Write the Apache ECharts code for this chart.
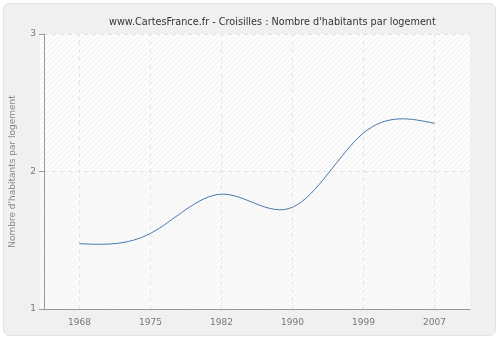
<!DOCTYPE html>
<html>
<head>
<meta charset="utf-8">
<script src="https://cdn.jsdelivr.net/npm/echarts@6/dist/echarts.min.js"></script>
<style>html,body{margin:0;padding:0;background:#fff;}#c{width:500px;height:340px;}</style>
</head>
<body>
<div id="c"></div>
<script>
var categories = ['1968', '1975', '1982', '1990', '1999', '2007'];
var values = [1.475, 1.55, 1.835, 1.74, 2.28, 2.35];
var yTicks = [1, 2, 3];
var titleText = "www.CartesFrance.fr - Croisilles : Nombre d'habitants par logement";
var yName = "Nombre d'habitants par logement";

function hatch(bg, line) {
  var c = document.createElement('canvas');
  c.width = 5; c.height = 5;
  var g = c.getContext('2d');
  g.fillStyle = bg; g.fillRect(0, 0, 5, 5);
  g.fillStyle = line;
  for (var y = 0; y < 5; y++) {
    var x = (4 - y) % 5;
    g.fillRect(x, y, 1, 1);
  }
  return c;
}

// natural cubic spline drawn through the library's coordinate system
function splinePath(pts) {
  var n = pts.length;
  var h = pts[1][0] - pts[0][0];
  var M = new Array(n).fill(0);
  var m = n - 2;
  if (m > 0) {
    var a = [], b = [], cc = [], d = [];
    for (var i = 1; i <= m; i++) {
      a.push(1); b.push(4); cc.push(1);
      d.push(6 * (pts[i + 1][1] - 2 * pts[i][1] + pts[i - 1][1]) / (h * h));
    }
    for (var k = 1; k < m; k++) {
      var w = a[k] / b[k - 1];
      b[k] -= w * cc[k - 1];
      d[k] -= w * d[k - 1];
    }
    var sol = new Array(m);
    sol[m - 1] = d[m - 1] / b[m - 1];
    for (var k2 = m - 2; k2 >= 0; k2--) sol[k2] = (d[k2] - cc[k2] * sol[k2 + 1]) / b[k2];
    for (var j = 0; j < m; j++) M[j + 1] = sol[j];
  }
  var p = 'M' + pts[0][0] + ' ' + pts[0][1];
  for (var s = 0; s < n - 1; s++) {
    var y0 = pts[s][1], y1 = pts[s + 1][1];
    var d0 = (y1 - y0) / h - h * (2 * M[s] + M[s + 1]) / 6;
    var d1 = (y1 - y0) / h + h * (M[s] + 2 * M[s + 1]) / 6;
    var x0 = pts[s][0], x1 = pts[s + 1][0];
    p += ' C' + (x0 + h / 3) + ' ' + (y0 + d0 * h / 3) + ' ' +
         (x1 - h / 3) + ' ' + (y1 - d1 * h / 3) + ' ' + x1 + ' ' + y1;
  }
  return p;
}

var chart = echarts.init(document.getElementById('c'));
var font = 'Verdana, "DejaVu Sans", sans-serif';
var seriesData = values.map(function (v, i) { return [i, v]; });

chart.setOption({
  animation: false,
  backgroundColor: '#ffffff',
  title: {
    text: titleText,
    left: 104,
    top: 12,
    textStyle: {fontFamily: font, fontSize: 9.7, fontWeight: 'normal', color: '#333'}
  },
  grid: {left: 40, right: 30, top: 34, bottom: 31, show: false},
  xAxis: {
    type: 'category',
    data: categories,
    boundaryGap: true,
    axisLine: {lineStyle: {color: '#999'}},
    axisTick: {alignWithLabel: true, length: 5, lineStyle: {color: '#999'}},
    axisLabel: {fontFamily: font, fontSize: 9, color: '#777', margin: 9},
    splitLine: {show: false}
  },
  yAxis: {
    type: 'value',
    min: yTicks[0],
    max: yTicks[yTicks.length - 1],
    interval: 1,
    name: yName,
    nameLocation: 'middle',
    nameGap: 27,
    nameTextStyle: {fontFamily: font, fontSize: 9, color: '#888'},
    axisLine: {show: true, lineStyle: {color: '#999'}},
    axisTick: {show: true, length: 5, lineStyle: {color: '#999'}},
    axisLabel: {fontFamily: font, fontSize: 9, color: '#777', margin: 8},
    splitLine: {show: true, lineStyle: {color: '#e4e4e4', type: [4, 4]}}
  },
  series: [{
    type: 'custom',
    data: seriesData,
    encode: {x: 0, y: 1},
    z: 5,
    renderItem: function (params, api) {
      if (params.dataIndex !== 0) return null;
      var pts = values.map(function (v, i) { return api.coord([i, v]); });
      return {
        type: 'path',
        shape: {pathData: splinePath(pts)},
        style: {fill: null, stroke: '#4a78ad', lineWidth: 1}
      };
    },
    markLine: {
      silent: true,
      symbol: 'none',
      label: {show: false},
      lineStyle: {color: '#e4e4e4', type: [4, 4], width: 1},
      data: categories.map(function (c) { return {xAxis: c}; })
    }
  }]
});

var tl = chart.convertToPixel({gridIndex: 0}, [0, 3]);
var mid = chart.convertToPixel({gridIndex: 0}, [0, 2]);
var bl = chart.convertToPixel({gridIndex: 0}, [0, 1]);
var gx = 40, gw = 430;
chart.setOption({
  graphic: [{
    type: 'rect',
    shape: {x: 3.5, y: 3.5, width: 492, height: 332, r: 6},
    style: {fill: '#f0f0f0', stroke: '#e2e2e2', lineWidth: 1},
    z: -10, silent: true
  }, {
    type: 'rect',
    shape: {x: gx, y: tl[1], width: gw, height: mid[1] - tl[1]},
    style: {fill: {image: hatch('#fdfdfd', '#efefef'), repeat: 'repeat'}},
    z: -9, silent: true
  }, {
    type: 'rect',
    shape: {x: gx, y: mid[1], width: gw, height: bl[1] - mid[1]},
    style: {fill: {image: hatch('#fafafa', '#f3f3f3'), repeat: 'repeat'}},
    z: -9, silent: true
  }]
});
</script>
</body>
</html>
